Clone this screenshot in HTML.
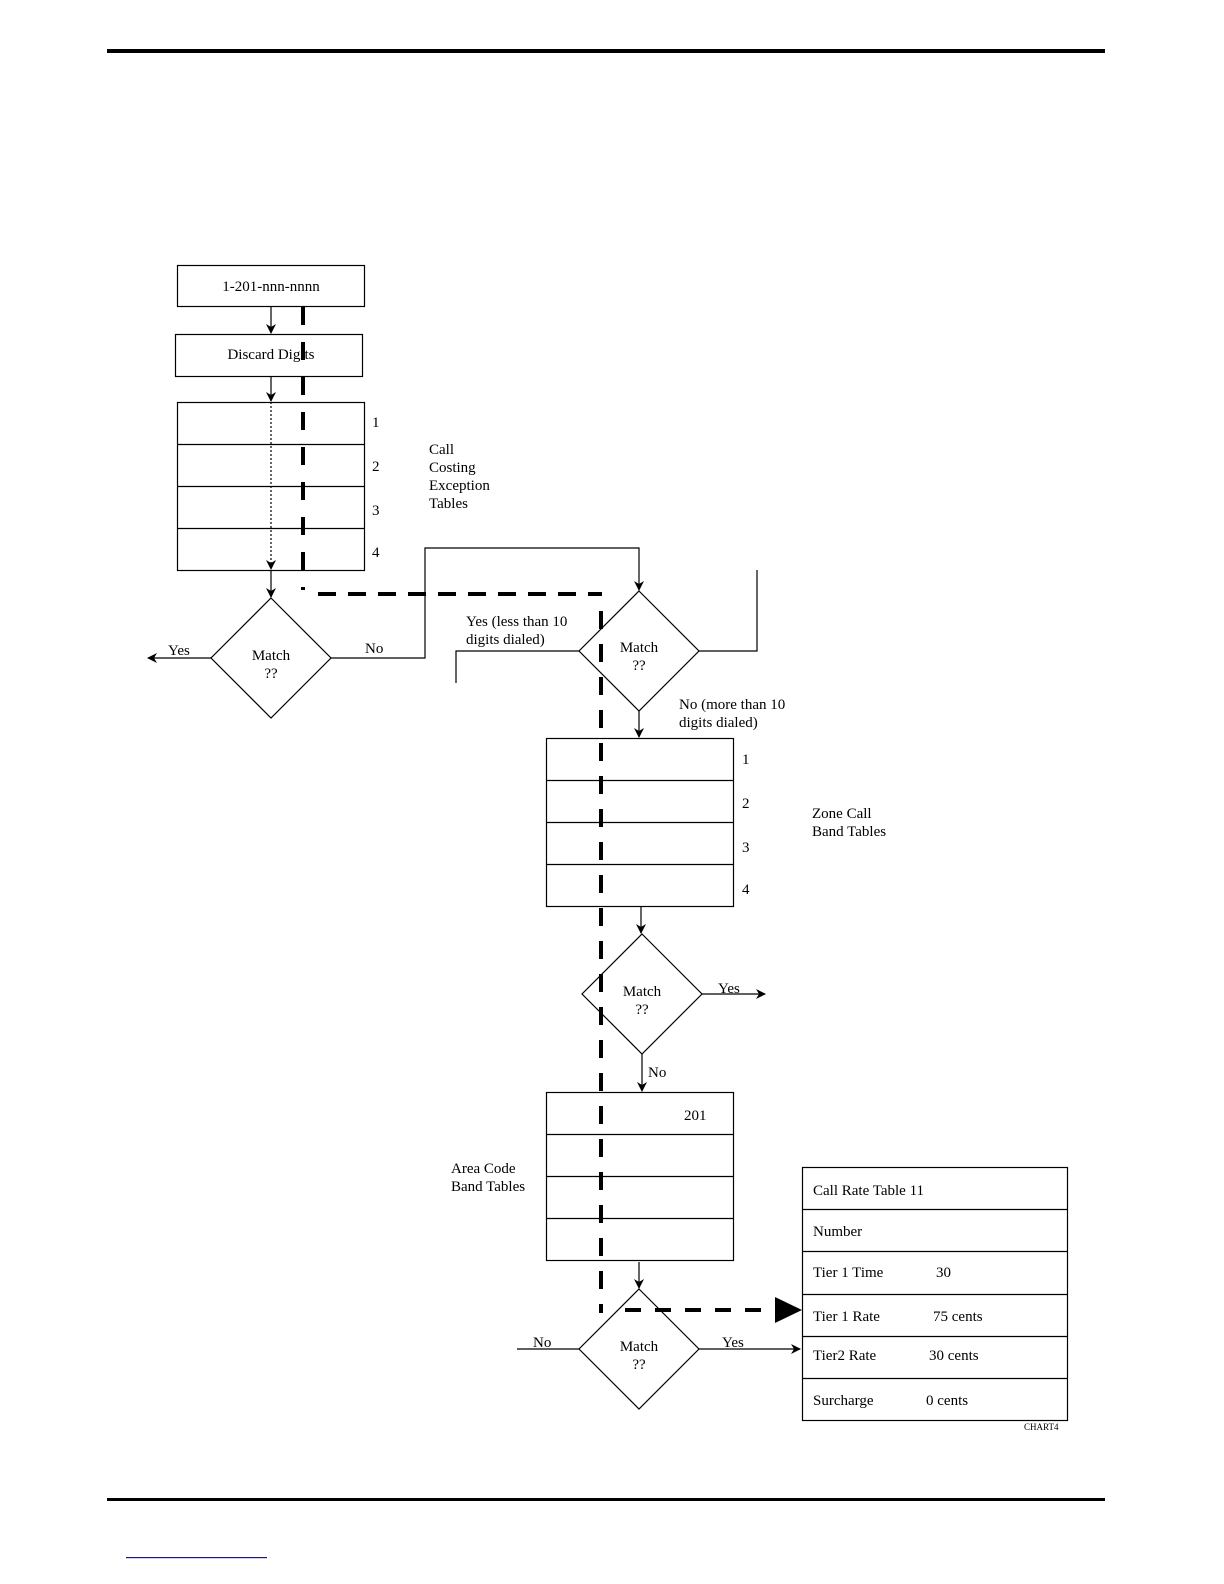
<!DOCTYPE html>
<html><head><meta charset="utf-8"><style>
html,body{margin:0;padding:0;background:#fff}
svg{display:block}
text{font-family:"Liberation Serif",serif;font-size:15px;fill:#000}
</style></head><body>
<svg width="1224" height="1584" viewBox="0 0 1224 1584" xmlns="http://www.w3.org/2000/svg">
<defs>
<marker id="a" markerWidth="10" markerHeight="10" refX="9" refY="5" orient="auto" markerUnits="userSpaceOnUse"><path d="M0,0 L10,5 L0,10 L3,5 Z" fill="#000"/></marker>
</defs>
<rect x="107" y="49" width="998" height="4" fill="#000"/>
<rect x="107" y="1498" width="998" height="3" fill="#000"/>
<rect x="126" y="1557" width="141" height="1.2" fill="#1a1a7a"/>
<g fill="none" stroke="#000" stroke-width="1.2">
<rect x="177.5" y="265.5" width="187" height="41"/>
<rect x="175.5" y="334.5" width="187" height="42"/>
<rect x="177.5" y="402.5" width="187" height="168"/>
<path d="M177.5 444.5H364.5M177.5 486.5H364.5M177.5 528.5H364.5"/>
<line x1="271" y1="306" x2="271" y2="333" marker-end="url(#a)"/>
<line x1="271" y1="376" x2="271" y2="401" marker-end="url(#a)"/>
<line x1="271" y1="402" x2="271" y2="569" stroke-dasharray="2,2" marker-end="url(#a)"/>
<line x1="271" y1="570" x2="271" y2="597" marker-end="url(#a)"/>
<polygon points="271,598 331,658 271,718 211,658"/>
<line x1="211" y1="658" x2="148" y2="658" marker-end="url(#a)"/>
<polyline points="331,658 425,658 425,548 639,548 639,590" marker-end="url(#a)"/>
<polygon points="639,591 699,651 639,711 579,651"/>
<polyline points="699,651 757,651 757,570"/>
<polyline points="579,651 456,651 456,683"/>
<line x1="639" y1="711" x2="639" y2="737" marker-end="url(#a)"/>
<rect x="546.5" y="738.5" width="187" height="168"/>
<path d="M546.5 780.5H733.5M546.5 822.5H733.5M546.5 864.5H733.5"/>
<line x1="641" y1="906" x2="641" y2="933" marker-end="url(#a)"/>
<polygon points="642,934 702,994 642,1054 582,994"/>
<line x1="702" y1="994" x2="765" y2="994" marker-end="url(#a)"/>
<line x1="642" y1="1054" x2="642" y2="1091" marker-end="url(#a)"/>
<rect x="546.5" y="1092.5" width="187" height="168"/>
<path d="M546.5 1134.5H733.5M546.5 1176.5H733.5M546.5 1218.5H733.5"/>
<line x1="639" y1="1262" x2="639" y2="1288" marker-end="url(#a)"/>
<polygon points="639,1289 699,1349 639,1409 579,1349"/>
<line x1="517" y1="1349" x2="579" y2="1349"/>
<line x1="699" y1="1349" x2="800" y2="1349" marker-end="url(#a)"/>
<rect x="802.5" y="1167.5" width="265" height="253"/>
<path d="M802.5 1209.5H1067.5M802.5 1251.5H1067.5M802.5 1294.5H1067.5M802.5 1336.5H1067.5M802.5 1378.5H1067.5"/>
</g>
<g fill="none" stroke="#000" stroke-width="4">
<line x1="303" y1="307" x2="303" y2="590" stroke-dasharray="18,17"/>
<line x1="318" y1="594" x2="602" y2="594" stroke-dasharray="18,12"/>
<line x1="601" y1="611" x2="601" y2="1313" stroke-dasharray="18,15"/>
<line x1="625" y1="1310" x2="778" y2="1310" stroke-dasharray="16,14"/>
</g>
<polygon points="775,1297 802,1310 775,1323" fill="#000"/>
<g text-anchor="middle">
<text x="271" y="291">1-201-nnn-nnnn</text>
<text x="271" y="359">Discard Digits</text>
<text x="271" y="660">Match</text><text x="271" y="678">??</text>
<text x="639" y="652">Match</text><text x="639" y="670">??</text>
<text x="642" y="996">Match</text><text x="642" y="1014">??</text>
<text x="639" y="1351">Match</text><text x="639" y="1369">??</text>
</g>
<text x="372" y="427">1</text><text x="372" y="471">2</text><text x="372" y="515">3</text><text x="372" y="557">4</text>
<text x="429" y="454">Call</text><text x="429" y="472">Costing</text><text x="429" y="490">Exception</text><text x="429" y="508">Tables</text>
<text x="168" y="655">Yes</text>
<text x="365" y="653">No</text>
<text x="466" y="626">Yes (less than 10</text><text x="466" y="644">digits dialed)</text>
<text x="679" y="709">No (more than 10</text><text x="679" y="727">digits dialed)</text>
<text x="742" y="764">1</text><text x="742" y="808">2</text><text x="742" y="852">3</text><text x="742" y="894">4</text>
<text x="812" y="818">Zone Call</text><text x="812" y="836">Band Tables</text>
<text x="718" y="993">Yes</text>
<text x="648" y="1077">No</text>
<text x="684" y="1120">201</text>
<text x="451" y="1173">Area Code</text><text x="451" y="1191">Band Tables</text>
<text x="533" y="1347">No</text>
<text x="722" y="1347">Yes</text>
<text x="813" y="1195">Call Rate Table 11</text>
<text x="813" y="1236">Number</text>
<text x="813" y="1277">Tier 1 Time</text><text x="936" y="1277">30</text>
<text x="813" y="1321">Tier 1 Rate</text><text x="933" y="1321">75 cents</text>
<text x="813" y="1360">Tier2 Rate</text><text x="929" y="1360">30 cents</text>
<text x="813" y="1405">Surcharge</text><text x="926" y="1405">0 cents</text>
<text x="1024" y="1430" style="font-size:9px">CHART4</text>
</svg>
</body></html>
